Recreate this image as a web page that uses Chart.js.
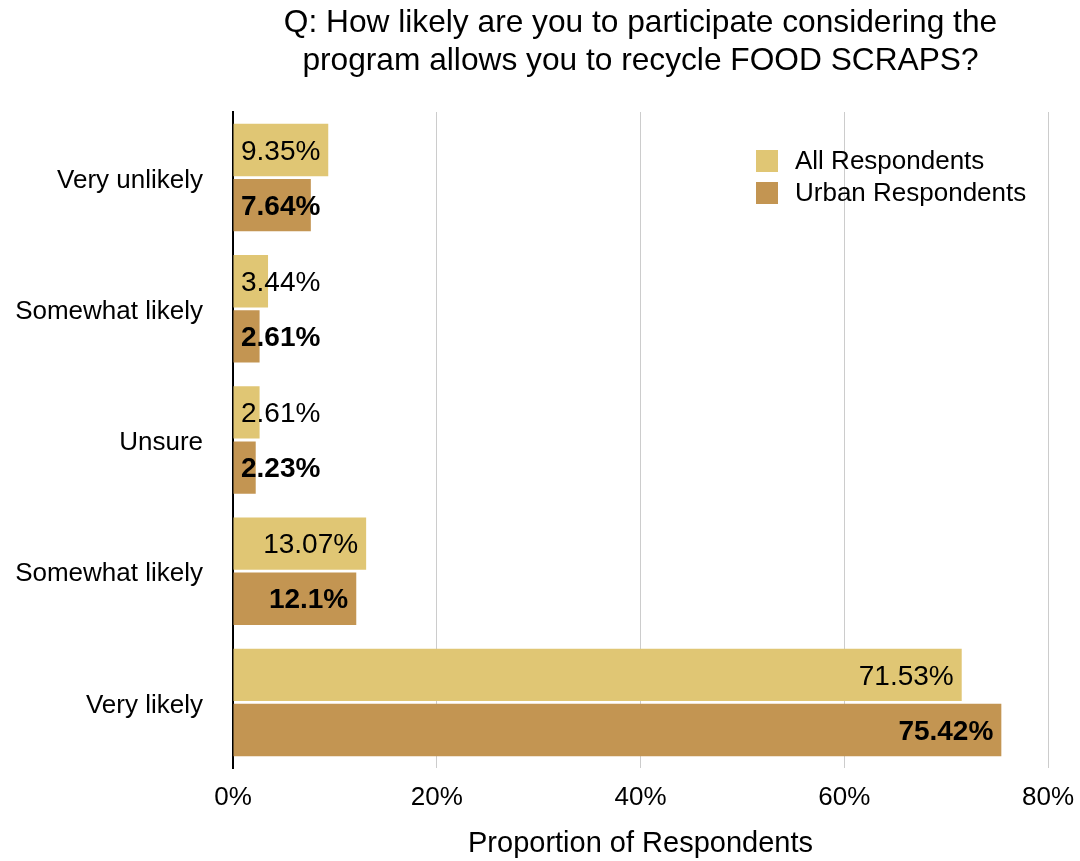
<!DOCTYPE html>
<html>
<head>
<meta charset="utf-8">
<script src="https://cdn.jsdelivr.net/npm/chart.js@4/dist/chart.umd.min.js"></script>
<style>
  html, body { margin: 0; padding: 0; background: #fff; }
  #wrap { width: 1080px; height: 861px; }
</style>
</head>
<body>
<div id="wrap"><canvas id="foodChart"></canvas></div>
<script>
// Dados do gráfico
const categories = ["Very unlikely", "Somewhat likely", "Unsure", "Somewhat likely", "Very likely"];
const allRespondents = [9.35, 3.44, 2.61, 13.07, 71.53];
const urbanRespondents = [7.64, 2.61, 2.23, 12.1, 75.42];
const seriesNames = ["All Respondents", "Urban Respondents"];
const seriesColors = ["#E0C674", "#C39552"];
const xTicks = [0, 20, 40, 60, 80];
const titleLines = ["Q: How likely are you to participate considering the", "program allows you to recycle FOOD SCRAPS?"];
const xTitle = "Proportion of Respondents";

const FONT = "'Liberation Sans', Arial, Helvetica, sans-serif";

// Rótulos de valor dentro das barras
const valueLabels = {
  id: "valueLabels",
  afterDatasetsDraw(chart) {
    const ctx = chart.ctx;
    const area = chart.chartArea;
    ctx.save();
    ctx.fillStyle = "#000";
    ctx.textBaseline = "middle";
    ctx.textAlign = "right";
    chart.data.datasets.forEach((ds, i) => {
      ctx.font = (i === 1 ? "bold " : "") + "28px " + FONT;
      chart.getDatasetMeta(i).data.forEach((bar, j) => {
        const txt = ds.data[j] + "%";
        const w = ctx.measureText(txt).width;
        const x = Math.max(bar.x - 8, area.left + 8 + w);
        ctx.fillText(txt, x, bar.y + 2);
      });
    });
    ctx.restore();
  }
};

// Título e legenda
const headerAndLegend = {
  id: "headerAndLegend",
  afterDraw(chart) {
    const ctx = chart.ctx;
    const area = chart.chartArea;
    ctx.save();
    ctx.fillStyle = "#000";
    ctx.textAlign = "center";
    ctx.textBaseline = "middle";
    ctx.font = "31.7px " + FONT;
    const cx = (area.left + area.right) / 2;
    ctx.fillText(titleLines[0], cx, 23);
    ctx.fillText(titleLines[1], cx, 61);

    ctx.textAlign = "left";
    ctx.font = "26px " + FONT;
    seriesNames.forEach((name, i) => {
      const y = 161 + i * 32;
      ctx.fillStyle = seriesColors[i];
      ctx.fillRect(756, y - 11, 22, 22);
      ctx.fillStyle = "#000";
      ctx.fillText(name, 795, y + 1);
    });
    ctx.restore();
  }
};

const chartData = {
  labels: categories,
  datasets: [
    { label: seriesNames[0], data: allRespondents, backgroundColor: seriesColors[0] },
    { label: seriesNames[1], data: urbanRespondents, backgroundColor: seriesColors[1] }
  ]
};

const chartConfig = {
  type: "bar",
  data: chartData,
  options: {
    indexAxis: "y",
    responsive: true,
    maintainAspectRatio: false,
    animation: false,
    categoryPercentage: 0.84,
    barPercentage: 0.95,
    layout: { padding: { top: 112, right: 32, left: 0, bottom: 0 } },
    plugins: {
      legend: { display: false },
      title: { display: false },
      tooltip: { enabled: false }
    },
    scales: {
      x: {
        min: 0,
        max: 80,
        z: 1,
        afterBuildTicks(scale) { scale.ticks = xTicks.map(v => ({ value: v })); },
        afterFit(scale) {
          scale.height = 93;
          scale.paddingLeft = 0;
          scale.paddingRight = 0;
        },
        border: { display: false },
        grid: { color: "rgba(0,0,0,0.2)", lineWidth: 1, drawTicks: false },
        ticks: {
          color: "#000",
          padding: 14,
          maxRotation: 0,
          font: { family: FONT, size: 26 },
          callback: v => v + "%"
        },
        title: {
          display: true,
          text: xTitle,
          color: "#000",
          font: { family: FONT, size: 29 },
          padding: { top: 0, bottom: 0 }
        }
      },
      y: {
        afterFit(scale) {
          scale.width = 233;
          scale.paddingTop = 0;
          scale.paddingBottom = 0;
        },
        border: { display: true, color: "#000", width: 2 },
        grid: { display: false, drawTicks: false },
        ticks: {
          color: "#000",
          padding: 30,
          labelOffset: 3,
          font: { family: FONT, size: 26 }
        }
      }
    }
  },
  plugins: [valueLabels, headerAndLegend]
};

const foodChartElement = document.getElementById("foodChart");
if (foodChartElement) {
  new Chart(foodChartElement, chartConfig);
}
</script>
</body>
</html>
